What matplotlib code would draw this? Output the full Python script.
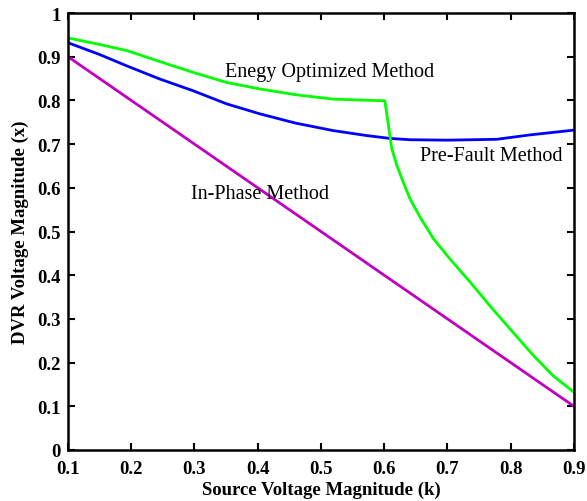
import matplotlib
matplotlib.use('Agg')
import matplotlib.pyplot as plt

# source voltage magnitude k and DVR voltage magnitude x for each method
k_inphase = [0.1, 0.9]
x_inphase = [0.9, 0.1]

k_prefault = [0.1, 0.15, 0.193, 0.245, 0.298, 0.351, 0.404, 0.46, 0.519, 0.57, 0.609, 0.641,
              0.70, 0.778, 0.83, 0.9]
x_prefault = [0.932, 0.905, 0.879, 0.849, 0.822, 0.792, 0.769, 0.748, 0.731, 0.72, 0.713, 0.710,
              0.709, 0.711, 0.721, 0.732]

k_energy = [0.1, 0.15, 0.193, 0.245, 0.298, 0.351, 0.404, 0.46, 0.519, 0.601, 0.609,
            0.612, 0.620, 0.630, 0.641, 0.657, 0.678, 0.704, 0.736, 0.767, 0.799, 0.836,
            0.867, 0.9]
x_energy = [0.943, 0.928, 0.914, 0.889, 0.864, 0.841, 0.826, 0.813, 0.803, 0.799, 0.719,
            0.689, 0.651, 0.613, 0.574, 0.532, 0.483, 0.437, 0.384, 0.330, 0.277, 0.216,
            0.170, 0.132]

labels = ['Enegy Optimized Method', 'Pre-Fault Method', 'In-Phase Method']

plt.rcParams['font.family'] = ['Liberation Serif', 'DejaVu Serif']

fig = plt.figure(figsize=(5.87, 5.02), dpi=100)
ax = fig.add_axes([0.1158, 0.1016, 0.862, 0.8705])

ax.plot(k_inphase, x_inphase, color='#c000c0', lw=2)
ax.plot(k_prefault, x_prefault, color='#0000ff', lw=2)
ax.plot(k_energy, x_energy, color='#00ff00', lw=2)

ax.text(0.513, 0.865, labels[0], ha='center', va='center', fontsize=14.5)
ax.text(0.770, 0.675, labels[1], ha='center', va='center', fontsize=14.5)
ax.text(0.404, 0.586, labels[2], ha='center', va='center', fontsize=14.5)

ax.set_xlim(0.1, 0.9)
ax.set_ylim(0, 1)
ax.set_xticks([0.1, 0.2, 0.3, 0.4, 0.5, 0.6, 0.7, 0.8, 0.9])
ax.set_yticks([0, 0.1, 0.2, 0.3, 0.4, 0.5, 0.6, 0.7, 0.8, 0.9, 1])
ax.set_yticklabels(['0', '0.1', '0.2', '0.3', '0.4', '0.5', '0.6', '0.7', '0.8', '0.9', '1'])
ax.tick_params(direction='in', top=True, right=True, length=5, width=1.5, labelsize=13.5)
ax.tick_params(axis='x', pad=7)
ax.tick_params(axis='y', pad=5)
for lab in ax.get_xticklabels() + ax.get_yticklabels():
    lab.set_fontweight('bold')
for s in ax.spines.values():
    s.set_linewidth(1.8)

ax.set_xlabel('Source Voltage Magnitude (k)', fontsize=13.5, fontweight='bold', labelpad=3)
ax.set_ylabel('DVR Voltage Magnitude (x)', fontsize=13.5, fontweight='bold', labelpad=6)

fig.savefig('out.png', dpi=100)
